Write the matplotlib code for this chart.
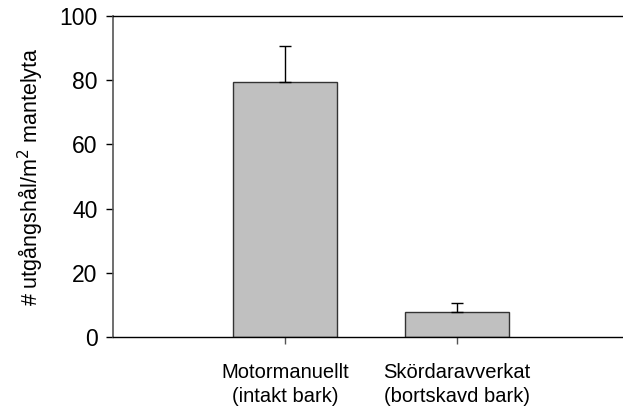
import numpy as np
import matplotlib.pyplot as plt

plt.rcParams['font.family'] = ['Liberation Sans', 'DejaVu Sans']

# mean exit holes per m2 bark surface, with upper error
categories = ['Motormanuellt\n(intakt bark)', 'Skördaravverkat\n(bortskavd bark)']
means = [79.5, 7.8]
errors = [11.2, 2.9]

fig = plt.figure(figsize=(6.23, 4.13), dpi=100)
ax = fig.add_axes([113 / 623, 76 / 413, 516 / 623, 321 / 413])

x = np.arange(1, len(categories) + 1)
ax.bar(x, means, width=0.6, color='#c0c0c0', edgecolor='#333333', linewidth=1.0, zorder=2)
ax.errorbar(x, means, yerr=[np.zeros(len(errors)), errors], fmt='none',
            ecolor='black', elinewidth=1.0, capsize=4, capthick=1.0, zorder=3)

ax.set_xlim(0, 3)
ax.set_ylim(0, 100)
ax.set_yticks([0, 20, 40, 60, 80, 100])
ax.set_xticks(x)
ax.set_xticklabels(categories, fontsize=14.5, linespacing=1.3)
ax.tick_params(axis='y', labelsize=16.5, direction='out', length=5, width=1, pad=6)
ax.tick_params(axis='x', direction='out', length=5, width=1, pad=14, color='#555555')
ax.set_ylabel('# utgångshål/m$^2$ mantelyta', fontsize=15.5, labelpad=10)

ax.spines['right'].set_visible(False)
ax.spines['left'].set_color('#555555')
ax.spines['left'].set_linewidth(1.2)
ax.spines['top'].set_linewidth(1.0)
ax.spines['bottom'].set_linewidth(1.0)

fig.savefig('out.png', dpi=100)
